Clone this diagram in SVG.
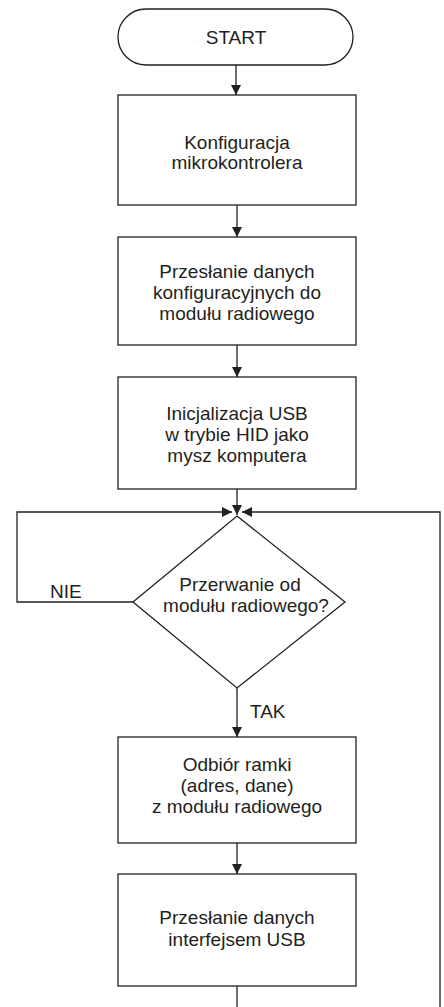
<svg xmlns="http://www.w3.org/2000/svg" width="444" height="1007" viewBox="0 0 444 1007">
<style>
.s{fill:#fff;stroke:#231f20;stroke-width:1.3}
.l{fill:none;stroke:#231f20;stroke-width:1.3}
text{font-family:"Liberation Sans",Arial,sans-serif;font-size:19px;fill:#231f20;text-anchor:middle}
.lab{text-anchor:start}
</style>
<defs>
<marker id="a" viewBox="0 0 10 10" refX="10" refY="5" markerWidth="10" markerHeight="10" markerUnits="userSpaceOnUse" orient="auto">
<path d="M0,0 L10,5 L0,10 Z" fill="#231f20"/>
</marker>
</defs>
<g id="connectors">
<line class="l" x1="236" y1="65" x2="236" y2="95" marker-end="url(#a)"/>
<line class="l" x1="237" y1="205" x2="237" y2="237" marker-end="url(#a)"/>
<line class="l" x1="237" y1="345" x2="237" y2="377" marker-end="url(#a)"/>
<line class="l" x1="237" y1="489" x2="237" y2="515" marker-end="url(#a)"/>
<polyline class="l" points="133,602 17,602 17,512 232,512" marker-end="url(#a)"/>
<polyline class="l" points="237,986 237,1007"/>
<polyline class="l" points="440,1007 440,512 242,512" marker-end="url(#a)"/>
<line class="l" x1="237" y1="688" x2="237" y2="737" marker-end="url(#a)"/>
<line class="l" x1="237" y1="843" x2="237" y2="874" marker-end="url(#a)"/>
<text class="lab" x="50" y="598">NIE</text>
<text class="lab" x="250" y="718">TAK</text>
</g>
<g id="start">
<rect class="s" x="118" y="9" width="235" height="56" rx="28" ry="28"/>
<text x="236" y="44">START</text>
</g>
<g id="konfiguracja">
<rect class="s" x="118" y="95" width="238" height="110"/>
<text x="237" y="149">Konfiguracja</text>
<text x="237" y="169">mikrokontrolera</text>
</g>
<g id="przeslanie-konfig">
<rect class="s" x="118" y="237" width="238" height="108"/>
<text x="237" y="278">Przesłanie danych</text>
<text x="237" y="299">konfiguracyjnych do</text>
<text x="237" y="320">modułu radiowego</text>
</g>
<g id="inicjalizacja">
<rect class="s" x="118" y="377" width="238" height="112"/>
<text x="237" y="420">Inicjalizacja USB</text>
<text x="237" y="441">w trybie HID jako</text>
<text x="237" y="462">mysz komputera</text>
</g>
<g id="przerwanie">
<polygon class="s" points="237,516 345,602 237,688 133,602"/>
<text x="240" y="591">Przerwanie od</text>
<text x="246" y="612">modułu radiowego?</text>
</g>
<g id="odbior">
<rect class="s" x="118" y="737" width="238" height="106"/>
<text x="237" y="771">Odbiór ramki</text>
<text x="237" y="792">(adres, dane)</text>
<text x="237" y="813">z modułu radiowego</text>
</g>
<g id="przeslanie-usb">
<rect class="s" x="118" y="874" width="238" height="112"/>
<text x="237" y="924">Przesłanie danych</text>
<text x="237" y="946">interfejsem USB</text>
</g>
</svg>
